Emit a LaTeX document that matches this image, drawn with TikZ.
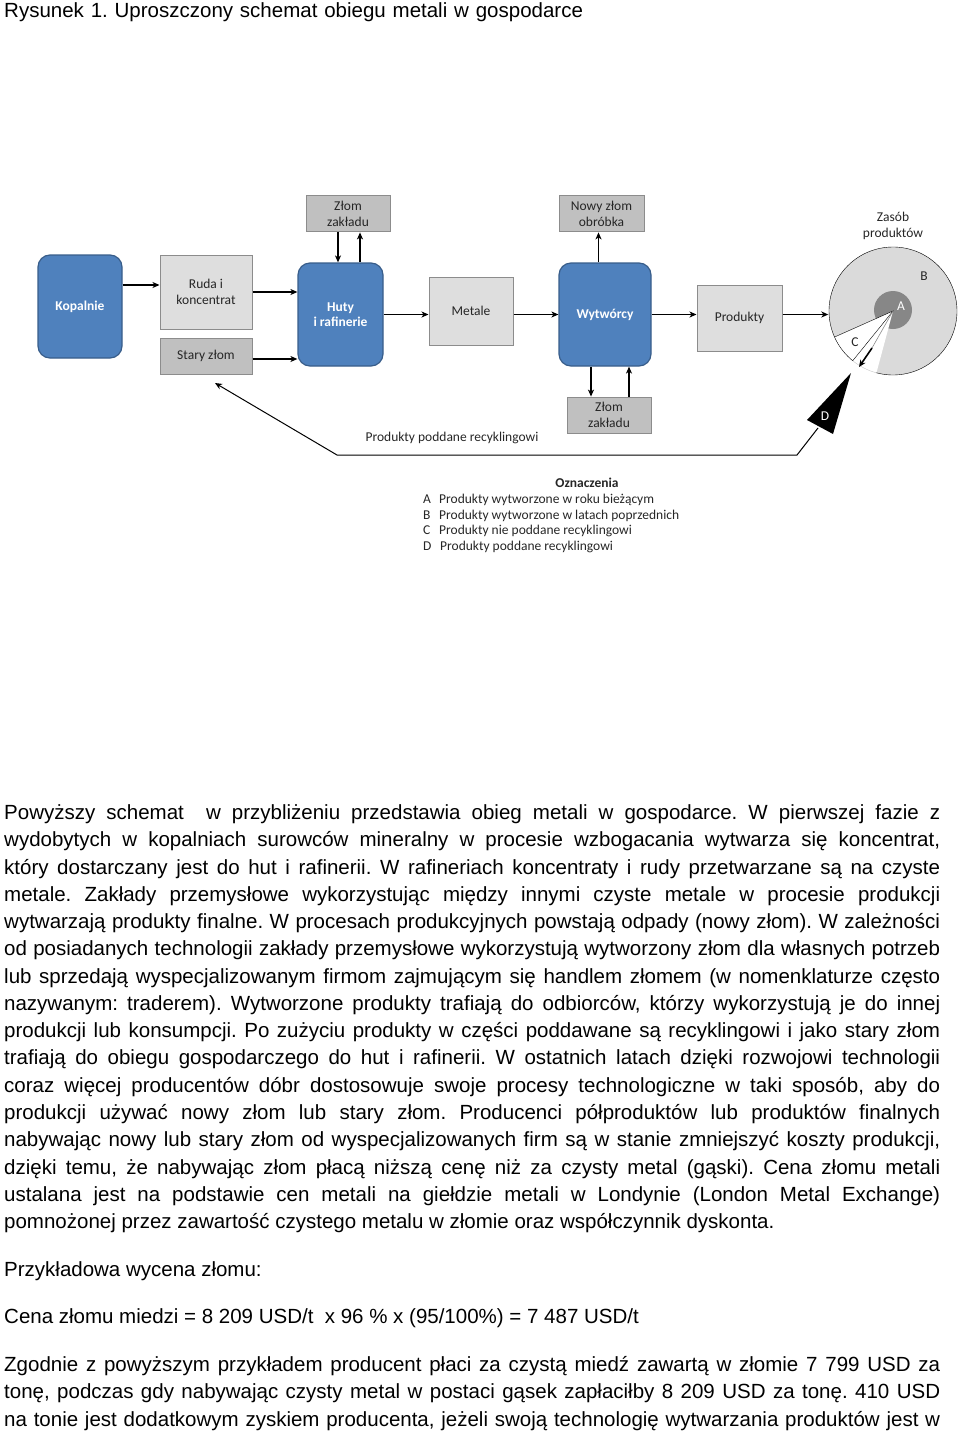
\documentclass[tikz,border=0pt]{standalone}
\usepackage{fontspec}
\setmainfont{Liberation Sans}
\newfontfamily\calibri{Carlito}
\usetikzlibrary{positioning,arrows.meta}
\frenchspacing

\definecolor{niebieski}{RGB}{79,129,189}
\definecolor{ramka}{RGB}{56,93,138}
\definecolor{jasny}{RGB}{222,222,222}
\definecolor{ciemny}{RGB}{192,192,192}
\definecolor{obwod}{RGB}{140,140,140}
\definecolor{zasobszary}{RGB}{218,218,218}
\definecolor{szaryA}{RGB}{135,135,135}

\begin{document}
\begin{tikzpicture}[x=1pt,y=-1pt,
		blok/.style={rectangle,rounded corners=12pt,fill=niebieski,draw=ramka,line width=1.2pt,text=white,font=\calibri\fontsize{13.5}{15.5}\selectfont\bfseries,align=center,minimum width=84pt,minimum height=103pt,inner sep=2pt},
		jasnyblok/.style={rectangle,fill=jasny,draw=obwod,line width=1pt,text=black!85,font=\calibri\fontsize{13.5}{15.5}\selectfont,align=center,minimum width=84pt,minimum height=36pt,inner sep=2pt},
		ciemnyblok/.style={jasnyblok,fill=ciemny},
		etykieta/.style={inner sep=0pt,text=black!85,font=\calibri\fontsize{13.5}{15.5}\selectfont,align=center},
		strzalka/.style={-{Stealth[length=7pt,width=6pt,inset=2pt]},line width=1.2pt},
		tekst/.style={inner sep=0pt,anchor=base west,text width=936pt,align=justify,font=\fontsize{20.5}{27.27}\selectfont}]
	\useasboundingbox (0,0) rectangle (960,1432);

	\node[tekst,text width=900pt,align=left] (tytul) at (4,17) {Rysunek 1. Uproszczony schemat obiegu metali w gospodarce};

	% bloki schematu
	\node[blok]												(kopalnie)	at (80,306.5)	{Kopalnie};
	\node[jasnyblok,minimum width=92pt,minimum height=74pt]	(ruda)		at (206,292)	{Ruda i\\koncentrat};
	\node[ciemnyblok,minimum width=92pt,below=8pt of ruda]		(stary)		{Stary złom};
	\node[blok,minimum width=85pt]							(huty)		at (340.5,314.5) {Huty\\i rafinerie};
	\node[ciemnyblok,above=30pt of huty,xshift=7.5pt]		(zlomgora)	{Złom\\zakładu};
	\node[jasnyblok,minimum height=68pt]					(metale)	at (471,311)	{Metale};
	\node[blok,minimum width=92pt]							(wytworcy)	at (605,314.5)	{Wytwórcy};
	\node[ciemnyblok,minimum width=85pt,above=30pt of wytworcy,xshift=-3.5pt] (nowy) {Nowy złom\\obróbka};
	\node[ciemnyblok,below=30pt of wytworcy,xshift=4pt]		(zlomdol)	{Złom\\zakładu};
	\node[jasnyblok,minimum width=85pt,minimum height=66pt]	(produkty)	at (739.5,318)	{Produkty};

	% zasob produktow
	\node[circle,fill=zasobszary,minimum size=128pt,inner sep=0pt] (zasob) at (893,311) {};
	\node[circle,fill=szaryA,minimum size=38pt,inner sep=0pt] (biezace) at (893,310) {};
	\fill[white] (zasob.center) -- ++(105:64) arc[start angle=105,end angle=156,radius=64] -- cycle;
	\draw[black!20] (zasob.center) ++(105:64) arc[start angle=105,end angle=129,radius=64];
	\draw (zasob.center) ++(129:64) arc[start angle=129,end angle=465,radius=64];
	\draw (zasob.center) ++(156:64) -- (zasob.center) -- ++(129:64);
	\node[etykieta,above=7pt of zasob] (zasoblabel) {Zasób\\produktów};
	\node[etykieta,text=white] (literaA) at (901,306) {A};
	\node[etykieta] (literaB) at (924,276) {B};
	\node[etykieta] (literaC) at (855,342) {C};

	\coordinate (wylot) at (872,348);
	\coordinate (ujscie) at (859,367);
	\draw[black!45,line width=0.6pt] (zasob.center) -- (wylot);
	\draw[strzalka,line width=1.6pt] (wylot) -- (ujscie);

	\fill (851,373) -- (807,420) -- (833,434) -- cycle;
	\node[etykieta,text=white] (literaD) at (825,416) {D};

	% strzalki
	\draw[strzalka] ([yshift=7pt]kopalnie.east |- ruda.west) -- ([yshift=7pt]ruda.west);
	\draw[strzalka] (ruda.east) -- (ruda.east -| huty.west);
	\draw[strzalka] ([yshift=-3pt]stary.east) -- ([yshift=-3pt]stary.east -| huty.west);
	\draw[strzalka] (huty.east) -- (huty.east -| metale.west);
	\draw[strzalka] (metale.east |- wytworcy.west) -- (wytworcy.west);
	\draw[strzalka] (wytworcy.east) -- (wytworcy.east -| produkty.west);
	\draw[strzalka] (wytworcy.east -| produkty.east) -- ([xshift=-0.5pt]wytworcy.east -| zasob.west);

	\draw[strzalka] ([xshift=-10pt]zlomgora.south) -- ([xshift=-10pt]zlomgora.south |- huty.north);
	\draw[strzalka] ([xshift=12pt]zlomgora.south |- huty.north) -- ([xshift=12pt]zlomgora.south);
	\draw[strzalka] ([xshift=-3pt]nowy.south |- wytworcy.north) -- ([xshift=-3pt]nowy.south);
	\draw[strzalka] ([xshift=-18pt]zlomdol.north |- wytworcy.south) -- ([xshift=-18pt]zlomdol.north);
	\draw[strzalka] ([xshift=20pt]zlomdol.north) -- ([xshift=20pt]zlomdol.north |- wytworcy.south);

	% produkty poddane recyklingowi
	\coordinate (dpodstawa) at (818,428);
	\coordinate (zakret1) at (797,455);
	\coordinate (zakret2) at (337,455);
	\coordinate (grot) at (215,383);
	\draw[strzalka,line width=1pt] (dpodstawa) -- (zakret1) -- (zakret2) -- (grot);
	\node[etykieta] (recykling) at (452,438) {Produkty poddane recyklingowi};

	% oznaczenia
	\node[etykieta,font=\calibri\fontsize{13.5}{15.5}\selectfont\bfseries] (oznaczenia) at (587,483) {Oznaczenia};
	\node[etykieta,anchor=north west,align=left,font=\calibri\fontsize{13.5}{15.7}\selectfont] (legenda) at (423,494)
		{\makebox[16pt][l]{A}Produkty wytworzone w roku bieżącym\\
		 \makebox[16pt][l]{B}Produkty wytworzone w latach poprzednich\\
		 \makebox[16pt][l]{C}Produkty nie poddane recyklingowi\\
		 \makebox[17pt][l]{D}Produkty poddane recyklingowi};

	% tekst
	\node[tekst] (opis) at (4,819.5) {\tolerance=10000
		Powyższy schemat\ \ w przybliżeniu przedstawia obieg metali w gospodarce. W pierwszej fazie z\linebreak
		wydobytych w kopalniach surowców mineralny w procesie wzbogacania wytwarza się koncentrat,\linebreak
		który dostarczany jest do hut i rafinerii. W rafineriach koncentraty i rudy przetwarzane są na czyste\linebreak
		metale. Zakłady przemysłowe wykorzystując między innymi czyste metale w procesie produkcji\linebreak
		wytwarzają produkty finalne. W procesach produkcyjnych powstają odpady (nowy złom). W zależności\linebreak
		od posiadanych technologii zakłady przemysłowe wykorzystują wytworzony złom dla własnych potrzeb\linebreak
		lub sprzedają wyspecjalizowanym firmom zajmującym się handlem złomem (w nomenklaturze często\linebreak
		nazywanym: traderem). Wytworzone produkty trafiają do odbiorców, którzy wykorzystują je do innej\linebreak
		produkcji lub konsumpcji. Po zużyciu produkty w części poddawane są recyklingowi i jako stary złom\linebreak
		trafiają do obiegu gospodarczego do hut i rafinerii. W ostatnich latach dzięki rozwojowi technologii\linebreak
		coraz więcej producentów dóbr dostosowuje swoje procesy technologiczne w taki sposób, aby do\linebreak
		produkcji używać nowy złom lub stary złom. Producenci półproduktów lub produktów finalnych\linebreak
		nabywając nowy lub stary złom od wyspecjalizowanych firm są w stanie zmniejszyć koszty produkcji,\linebreak
		dzięki temu, że nabywając złom płacą niższą cenę niż za czysty metal (gąski). Cena złomu metali\linebreak
		ustalana jest na podstawie cen metali na giełdzie metali w Londynie (London Metal Exchange)\linebreak
		pomnożonej przez zawartość czystego metalu w złomie oraz współczynnik dyskonta.};
	\node[tekst] (przyklad) at (4,1276) {Przykładowa wycena złomu:};
	\node[tekst] (cena) at (4,1323.5) {Cena złomu miedzi = 8 209 USD/t\ \ x 96 \% x (95/100\%) = 7 487 USD/t};
	\node[tekst] (zgodnie) at (4,1371.5) {\tolerance=10000\parfillskip=0pt
		Zgodnie z powyższym przykładem producent płaci za czystą miedź zawartą w złomie 7 799 USD za\linebreak
		tonę, podczas gdy nabywając czysty metal w postaci gąsek zapłaciłby 8 209 USD za tonę. 410 USD\linebreak
		na tonie jest dodatkowym zyskiem producenta, jeżeli swoją technologię wytwarzania produktów jest w\par};
\end{tikzpicture}
\end{document}
